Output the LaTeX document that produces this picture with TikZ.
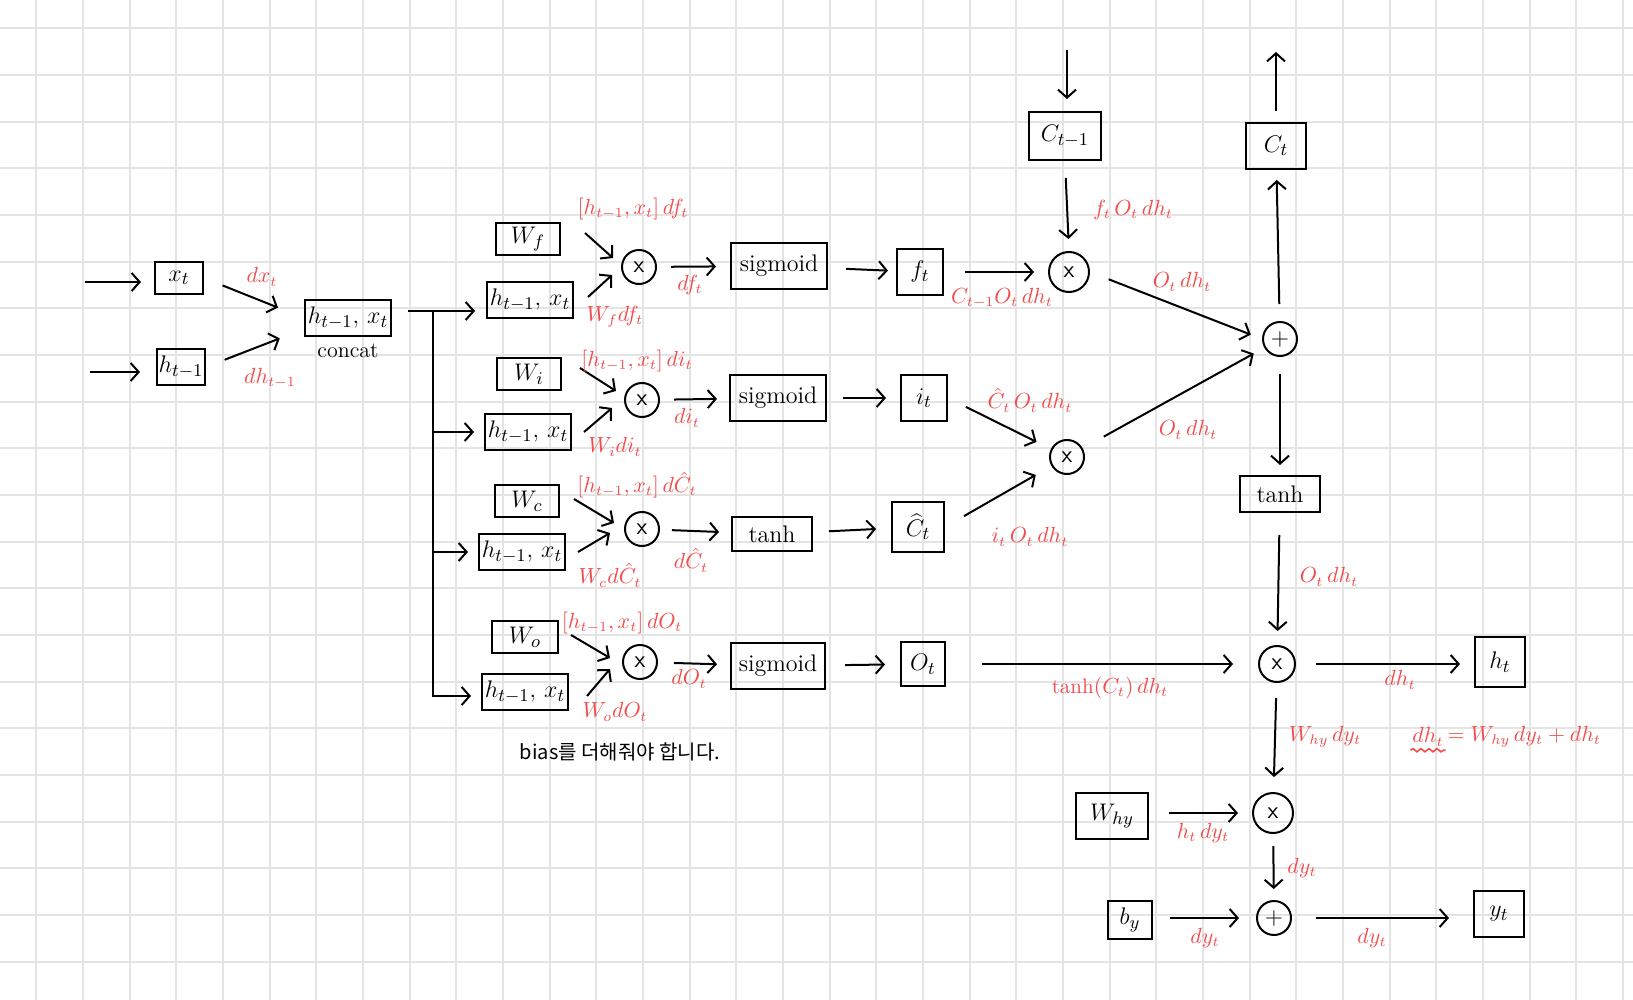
\documentclass[tikz,border=0pt]{standalone}
\usepackage{fontspec}
\newfontfamily\krfont{Noto Sans CJK KR}
\usetikzlibrary{arrows.meta,positioning,decorations.pathmorphing}
\definecolor{lblred}{RGB}{242,76,76}
\definecolor{gridgray}{RGB}{228,228,228}
\tikzset{
  blk/.style={draw, inner sep=0pt, font=\fontsize{13}{15}\selectfont},
  bx/.style 2 args={blk, minimum width=#1, minimum height=#2},
  op/.style={draw, circle, inner sep=0pt, minimum size=#1, font=\fontsize{12}{14}\selectfont},
  op/.default=17pt,
  lbl/.style={text=lblred, inner sep=0.5pt, font=\fontsize{10.5}{12}\selectfont},
  arr/.style={->},
}
\begin{document}
\begin{tikzpicture}[x=0.5pt, y=-0.5pt, line width=1pt, >={Straight Barb[length=4pt,width=9pt]}]

\useasboundingbox (0,0) rectangle (1633,1000);
\fill[white] (0,0) rectangle (1633,1000);

\begin{scope}[gridgray]
\foreach \i in {0,...,34}
  \draw ({36.3+46.67*\i},0) -- ({36.3+46.67*\i},1000);
\foreach \j in {0,...,20}
  \draw (0,{28.3+46.67*\j}) -- (1633,{28.3+46.67*\j});
\end{scope}

% inputs and concat
\node[bx={24pt}{16pt}] (xt) at (179,278) {$x_t$};
\node[bx={24pt}{18pt}] (hp) at (181,367) {$h_{t-1}$};
\node[bx={43pt}{18pt}] (cat) at (348,318) {$h_{t-1},\,x_t$};
\node[blk, draw=none, font=\fontsize{11}{13}\selectfont] (catlbl) at (348,351) {concat};
\coordinate (xin) at (85,282);
\coordinate (hin) at (90,372);
\coordinate (split) at (433,311);

% gates
\node[bx={32pt}{16pt}] (wf) at (528,239) {$W_f$};
\node[bx={43pt}{18pt}] (hxf) at (530,300) {$h_{t-1},\,x_t$};
\node[op] (mf) at (639,267) {\textsf{x}};
\node[bx={48pt}{23pt}, font=\fontsize{12}{14}\selectfont] (sf) at (779,266) {sigmoid};
\node[bx={23pt}{23pt}] (ft) at (920,272) {$f_t$};

\node[bx={32pt}{16pt}] (wi) at (529,374) {$W_i$};
\node[bx={43pt}{18pt}] (hxi) at (528,432) {$h_{t-1},\,x_t$};
\node[op] (mi) at (642,400) {\textsf{x}};
\node[bx={48pt}{23pt}, font=\fontsize{12}{14}\selectfont] (si) at (778,398) {sigmoid};
\node[bx={23pt}{23pt}] (it) at (924,398) {$i_t$};

\node[bx={32pt}{16pt}] (wc) at (527,501) {$W_c$};
\node[bx={43pt}{18pt}] (hxc) at (522,552) {$h_{t-1},\,x_t$};
\node[op] (mc) at (642,529) {\textsf{x}};
\node[bx={40pt}{17pt}, font=\fontsize{12}{14}\selectfont] (tc) at (772,534) {tanh};
\node[bx={26pt}{25pt}] (ct) at (918,527) {$\widehat{C}_t$};

\node[bx={33pt}{16pt}] (wo) at (525,637) {$W_o$};
\node[bx={43pt}{18pt}] (hxo) at (525,692) {$h_{t-1},\,x_t$};
\node[op] (mo) at (640,662) {\textsf{x}};
\node[bx={47pt}{23pt}, font=\fontsize{12}{14}\selectfont] (so) at (778,666) {sigmoid};
\node[bx={22pt}{22pt}] (ot) at (923,664) {$O_t$};

\node[font=\krfont\fontsize{10}{12}\selectfont] (note) at (620,752) {bias를 더해줘야 합니다.};

% cell state and output
\node[bx={36pt}{24pt}] (cp) at (1065,136) {$C_{t-1}$};
\node[bx={30pt}{23pt}] (c) at (1276,146) {$C_t$};
\node[op=20pt] (mcf) at (1069,272) {\textsf{x}};
\node[op] (mci) at (1067,457) {\textsf{x}};
\node[op] (ad) at (1280,339) {$+$};
\node[bx={40pt}{18pt}, font=\fontsize{12}{14}\selectfont] (th) at (1280,494) {tanh};
\node[op=18pt] (mh) at (1277,664) {\textsf{x}};
\node[bx={25pt}{25pt}] (ht) at (1500,662) {$h_t$};
\node[bx={36pt}{23pt}] (why) at (1112,816) {$W_{hy}$};
\node[op=20pt] (my) at (1273,813) {\textsf{x}};
\node[bx={22pt}{19pt}] (by) at (1130,920) {$b_y$};
\node[op] (ay) at (1274,918) {$+$};
\node[bx={25pt}{23pt}] (yt) at (1499,914) {$y_t$};
\coordinate (cin) at (1067,50);
\coordinate (cout) at (1269,52);

\begin{scope}[arr]
\draw[shorten >=6.5pt] (xin) -- (xt.west |- xin);
\draw[shorten >=8pt] (hin) -- (hp.west |- hin);
\draw[shorten <=10pt, shorten >=14pt] (xt.east) -- (cat.west);
\draw[shorten <=10pt, shorten >=13pt] (hp.east) -- ([yshift=4pt]cat.south west);

\draw[shorten <=8pt, shorten >=5.5pt] (cat.east |- split) -- (hxf.west |- split);
\draw[shorten >=5pt] (split) |- (hxi.west);
\draw[shorten >=5pt] (split) |- (hxc.west);
\draw[shorten >=5pt] (split) |- ([yshift=-2pt]hxo.west);

\draw ([xshift=12pt,yshift=3pt]wf.east) -- ([xshift=-4pt,yshift=4.5pt]mf.west);
\draw ([xshift=7pt,yshift=1.5pt]hxf.east) -- ([xshift=-4.5pt,yshift=-4pt]mf.west);
\draw ([xshift=9pt,yshift=3pt]wi.east) -- ([xshift=-4pt,yshift=4.5pt]mi.west);
\draw ([xshift=6pt,yshift=0pt]hxi.east) -- ([xshift=-6pt,yshift=-4pt]mi.west);
\draw ([xshift=7pt,yshift=1pt]wc.east) -- ([xshift=-5pt,yshift=3pt]mc.west);
\draw ([xshift=6pt,yshift=0pt]hxc.east) -- ([xshift=-7pt,yshift=-2pt]mc.west);
\draw ([xshift=6pt,yshift=1pt]wo.east) -- ([xshift=-6pt,yshift=2pt]mo.west);
\draw ([xshift=9pt,yshift=-2pt]hxo.east) -- ([xshift=-6pt,yshift=-3.5pt]mo.west);

\draw[shorten <=7pt, shorten >=7pt] (mf) -- (sf);
\draw[shorten <=7pt, shorten >=6pt] (mi) -- (si);
\draw[shorten <=6pt, shorten >=6pt] (mc) -- (tc);
\draw[shorten <=8pt, shorten >=6.5pt] (mo) -- (so);
\draw[shorten <=9pt, shorten >=4pt] (sf) -- (ft);
\draw[shorten <=8pt, shorten >=7pt] (si) -- (it);
\draw[shorten <=8pt, shorten >=7.5pt] (tc) -- (ct);
\draw[shorten <=9.5pt, shorten >=7.5pt] (so) -- (ot);

\draw[shorten >=6pt] (cin) -- (cin |- cp.north);
\draw[shorten <=8.5pt, shorten >=6pt] (cp.south) -- (mcf.north);
\draw[shorten <=10.5pt, shorten >=7pt] (ft.east) -- (mcf.west);
\draw[shorten <=10pt, shorten >=6pt] (mcf.east) -- (ad.west);
\draw[shorten <=8.5pt, shorten >=5pt] (ad) -- (c);
\draw[shorten <=5.5pt] (c.north) -- (c.north |- cout);
\draw[shorten <=10pt, shorten >=8pt] (it.east) -- (mci);
\draw[shorten <=11pt, shorten >=9pt] (ct.east) -- (mci);
\draw[shorten <=12pt, shorten >=6pt] (mci) -- (ad);
\draw[shorten <=8.5pt, shorten >=5pt] (ad) -- (th);
\draw[shorten <=11pt, shorten >=7pt] (th) -- (mh);
\draw[shorten <=18pt, shorten >=12.5pt] (ot.east) -- (mh.west);
\draw[shorten <=10pt, shorten >=7pt] (mh.east) -- (ht.west |- mh.east);
\draw[shorten <=7.5pt, shorten >=7.5pt] (mh) -- (my);
\draw[shorten <=10pt, shorten >=7pt] (why.east |- my) -- (my.west);
\draw[shorten <=6pt, shorten >=5.5pt] (my) -- (ay);
\draw[shorten <=8.5pt, shorten >=8.5pt] (by.east |- ay) -- (ay.west);
\draw[shorten <=12pt, shorten >=12pt] (ay.east) -- (yt.west |- ay.east);
\end{scope}

% gradients
\begin{scope}[lbl]
\node (l1) at (262,277) {$dx_t$};
\node (l2) at (270,378) {$dh_{t-1}$};
\node (l3) at (633,209) {$[h_{t-1},x_t]\,df_t$};
\node (l4) at (615,317) {$W_f df_t$};
\node (l5) at (690,285) {$df_t$};
\node (l6) at (637,361) {$[h_{t-1},x_t]\,di_t$};
\node (l7) at (615,447) {$W_i di_t$};
\node (l8) at (687,418) {$di_t$};
\node (l9) at (637,485) {$[h_{t-1},x_t]\,d\hat{C}_t$};
\node (l10) at (610,575) {$W_c d\hat{C}_t$};
\node (l11) at (691,560) {$d\hat{C}_t$};
\node (l12) at (622,623) {$[h_{t-1},x_t]\,dO_t$};
\node (l13) at (615,712) {$W_o dO_t$};
\node (l14) at (689,679) {$dO_t$};
\node (l15) at (1133,210) {$f_t\,O_t\,dh_t$};
\node (l16) at (1002,298) {$C_{t-1}O_t\,dh_t$};
\node (l17) at (1182,282) {$O_t\,dh_t$};
\node (l18) at (1030,400) {$\hat{C}_t\,O_t\,dh_t$};
\node (l19) at (1030,537) {$i_t\,O_t\,dh_t$};
\node (l20) at (1188,430) {$O_t\,dh_t$};
\node (l21) at (1329,577) {$O_t\,dh_t$};
\node (l22) at (1110,688) {$\tanh(C_t)\,dh_t$};
\node (l23) at (1400,680) {$dh_t$};
\node (l24) at (1325,737) {$W_{hy}\,dy_t$};
\node (l25) at (1428,737) {$dh_t$};
\node[right=0pt of l25] (l26) {$=W_{hy}\,dy_t+dh_t$};
\node (l27) at (1203,833) {$h_t\,dy_t$};
\node (l28) at (1302,868) {$dy_t$};
\node (l29) at (1205,938) {$dy_t$};
\node (l30) at (1372,938) {$dy_t$};
\draw[lblred, line width=0.8pt, decorate, decoration={snake, amplitude=0.8pt, segment length=4pt}] ([yshift=-1pt]l25.south west) -- ([yshift=-1pt]l25.south east);
\end{scope}

\end{tikzpicture}
\end{document}
